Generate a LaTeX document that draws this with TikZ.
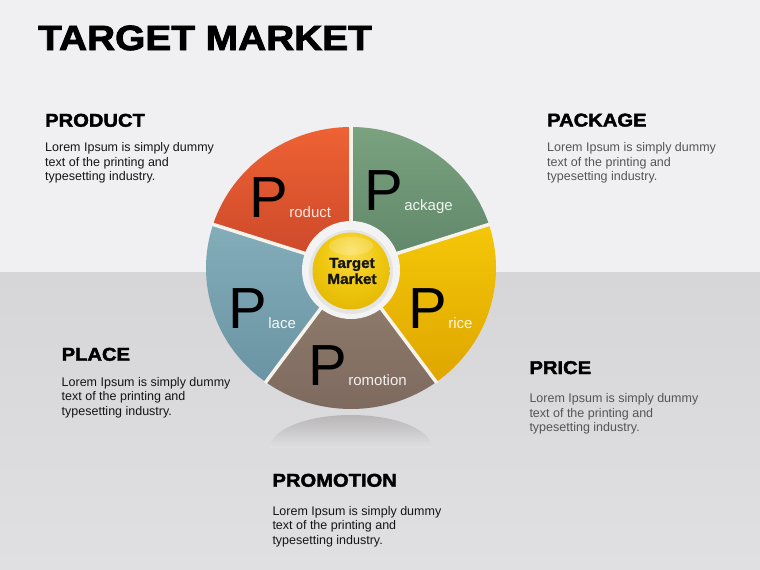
\documentclass[tikz,border=0pt]{standalone}
\usepackage{fontspec}
\usetikzlibrary{calc}
\setmainfont{Liberation Sans}
\newfontfamily\headfont[FakeStretch=1.09, BoldFeatures={FakeBold=2.2}]{Liberation Sans}
\newfontfamily\titlefont[FakeStretch=1.11, BoldFeatures={FakeBold=2.4}]{Liberation Sans}
\newfontfamily\ballfont[FakeStretch=1.05, BoldFeatures={FakeBold=1.5}]{Liberation Sans}
\definecolor{topbg}{HTML}{F0EFF2}
\definecolor{botA}{HTML}{D6D5D7}
\definecolor{botB}{HTML}{E0DFE1}
\definecolor{prodT}{HTML}{EE6234}
\definecolor{prodB}{HTML}{CA4729}
\definecolor{packT}{HTML}{7AA27F}
\definecolor{packB}{HTML}{5E8568}
\definecolor{priceT}{HTML}{F4C708}
\definecolor{priceB}{HTML}{DFA600}
\definecolor{promT}{HTML}{93806F}
\definecolor{promB}{HTML}{7C685E}
\definecolor{placeT}{HTML}{84ADBA}
\definecolor{placeB}{HTML}{6A94A3}
\definecolor{sepc}{HTML}{F6F3EC}
\definecolor{ringc}{HTML}{F3F3F3}
\definecolor{ringin}{HTML}{DADADA}
\definecolor{gA}{HTML}{FCE05A}
\definecolor{gB}{HTML}{F0C810}
\definecolor{gC}{HTML}{DDB000}
\definecolor{gD}{HTML}{B89200}
\definecolor{darktext}{HTML}{151515}
\definecolor{greytext}{HTML}{555555}
\definecolor{reflc}{HTML}{B8B6B7}
\pgfdeclareradialshading{goldball}{\pgfpoint{0bp}{14bp}}{color(0bp)=(gA); color(18bp)=(gB); color(42bp)=(gC); color(60bp)=(gD); color(70bp)=(gD)}
\tikzset{
  head/.style={anchor=base west, inner sep=0pt, font=\headfont\bfseries\fontsize{18.5}{18.5}\selectfont, text=black},
  body/.style={anchor=base west, inner sep=0pt, font=\fontsize{12.5}{14.5}\selectfont},
  bigp/.style={anchor=base west, inner sep=0pt},
  sepline/.style={draw=sepc, line width=3.5pt},
}
\newcommand{\seglab}[2]{{\fontsize{58}{58}\selectfont P}\hspace{1.5pt}{\fontsize{15}{15}\selectfont\color{#1}#2}}
\begin{document}
\begin{tikzpicture}[x=1pt,y=-1pt]
\useasboundingbox (0,0) rectangle (760,570);
% background
\fill[topbg] (0,0) rectangle (760,272);
\shade[top color=botA, bottom color=botB] (0,272) rectangle (760,570);
% title
\node[anchor=base west, inner sep=0pt, font=\titlefont\bfseries\fontsize{35}{35}\selectfont] (title) at (38,50) {TARGET MARKET};
% reflection
\shade[top color=reflc, bottom color=botB] (270,448) arc[start angle=180, end angle=360, x radius=81, y radius=33] -- cycle;
% pie
\coordinate (c) at (351,268);
\shade[top color=packT, bottom color=packB] (c) -- ++(-90:145 and 141) arc[start angle=-90, end angle=-18, x radius=145, y radius=141] -- cycle;
\shade[top color=prodT, bottom color=prodB] (c) -- ++(-162:145 and 141) arc[start angle=-162, end angle=-90, x radius=145, y radius=141] -- cycle;
\shade[top color=priceT, bottom color=priceB] (c) -- ++(-18:145 and 141) arc[start angle=-18, end angle=54, x radius=145, y radius=141] -- cycle;
\shade[top color=promT, bottom color=promB] (c) -- ++(54:145 and 141) arc[start angle=54, end angle=126, x radius=145, y radius=141] -- cycle;
\shade[top color=placeT, bottom color=placeB] (c) -- ++(126:145 and 141) arc[start angle=126, end angle=198, x radius=145, y radius=141] -- cycle;
% separators
\coordinate (e1) at ($(c)+(-90:146 and 142)$);
\coordinate (e2) at ($(c)+(-18:146 and 142)$);
\coordinate (e3) at ($(c)+(54:146 and 142)$);
\coordinate (e4) at ($(c)+(126:146 and 142)$);
\coordinate (e5) at ($(c)+(198:146 and 142)$);
\foreach \e in {e1,e2,e3,e4,e5} \draw[sepline] (c) -- (\e);
% centre ring and ball
\fill[ringc] (351,270) circle (49);
\fill[ringin, opacity=0.6] (351,272) circle (42);
\shade[shading=goldball] (351,271) circle (38.5);
\fill[white, opacity=0.18] (351,246) ellipse [x radius=22, y radius=9];
\node[align=center, inner sep=0pt, font=\ballfont\bfseries\fontsize{14.5}{16}\selectfont, text=darktext] (tm) at (352,271) {Target\\Market};
% segment labels
\node[bigp] (lprod) at (249,217) {\seglab{prodT!15!white}{roduct}};
\node[bigp] (lpack) at (364,210) {\seglab{packT!12!white}{ackage}};
\node[bigp] (lprice) at (408,328) {\seglab{priceT!12!white}{rice}};
\node[bigp] (lplace) at (228,328) {\seglab{placeT!10!white}{lace}};
\node[bigp] (lprom) at (308,385) {\seglab{promT!12!white}{romotion}};
% text blocks
\node[head] (hprod) at (45,126.7) {PRODUCT};
\node[body, text=darktext] (bprod1) at (45,151.7) {Lorem Ipsum is simply dummy};
\node[body, text=darktext] (bprod2) at (45,166.2) {text of the printing and};
\node[body, text=darktext] (bprod3) at (45,180.7) {typesetting industry.};
\node[head] (hpack) at (547,126.5) {PACKAGE};
\node[body, text=greytext] (bpack1) at (547,151.7) {Lorem Ipsum is simply dummy};
\node[body, text=greytext] (bpack2) at (547,166.2) {text of the printing and};
\node[body, text=greytext] (bpack3) at (547,180.7) {typesetting industry.};
\node[head] (hplace) at (61.5,360.7) {PLACE};
\node[body, text=darktext] (bplace1) at (61.5,386.2) {Lorem Ipsum is simply dummy};
\node[body, text=darktext] (bplace2) at (61.5,400.7) {text of the printing and};
\node[body, text=darktext] (bplace3) at (61.5,415.2) {typesetting industry.};
\node[head] (hprice) at (529.3,374) {PRICE};
\node[body, text=greytext] (bprice1) at (529.3,402.5) {Lorem Ipsum is simply dummy};
\node[body, text=greytext] (bprice2) at (529.3,417) {text of the printing and};
\node[body, text=greytext] (bprice3) at (529.3,431.5) {typesetting industry.};
\node[head] (hprom) at (272.3,486.7) {PROMOTION};
\node[body, text=darktext] (bprom1) at (272.3,515.2) {Lorem Ipsum is simply dummy};
\node[body, text=darktext] (bprom2) at (272.3,529.7) {text of the printing and};
\node[body, text=darktext] (bprom3) at (272.3,544.2) {typesetting industry.};
\end{tikzpicture}
\end{document}
